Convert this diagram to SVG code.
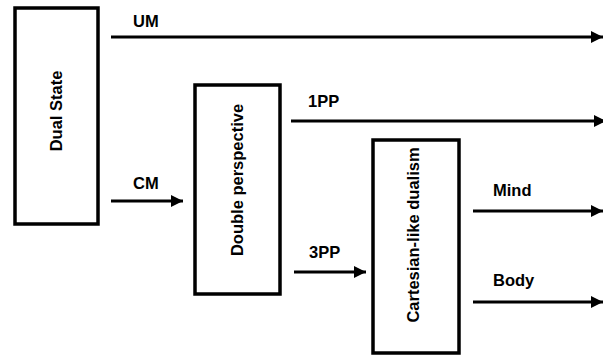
<svg xmlns="http://www.w3.org/2000/svg" width="603" height="356" viewBox="0 0 603 356">
<defs>
<style>
.box{fill:#fff;stroke:#000;stroke-width:3.5}
.lbl{font-family:"Liberation Sans",Arial,sans-serif;font-weight:bold;font-size:16.5px;fill:#000}
.ln{stroke:#000;stroke-width:3;fill:none}
</style>
<marker id="ah" viewBox="0 0 10 10" refX="10" refY="5" markerWidth="4" markerHeight="4.4" markerUnits="strokeWidth" orient="auto">
<path d="M0,0 L10,5 L0,10 Z" fill="#000"/>
</marker>
</defs>
<rect width="603" height="356" fill="#fff"/>
<g id="dual-state">
<rect class="box" x="15" y="8" width="83" height="216"/>
<text class="lbl" transform="translate(62,111) rotate(-90)" text-anchor="middle">Dual State</text>
</g>
<g id="double-perspective">
<rect class="box" x="195" y="85" width="85" height="209"/>
<text class="lbl" transform="translate(243,180) rotate(-90)" text-anchor="middle">Double perspective</text>
</g>
<g id="cartesian-dualism">
<rect class="box" x="373" y="140" width="86" height="213"/>
<text class="lbl" transform="translate(419,235) rotate(-90)" text-anchor="middle">Cartesian-like dualism</text>
</g>
<g id="connectors">
<line class="ln" x1="111" y1="37" x2="603" y2="37" marker-end="url(#ah)"/>
<line class="ln" x1="111" y1="201" x2="183" y2="201" marker-end="url(#ah)"/>
<line class="ln" x1="291" y1="121" x2="606" y2="121" marker-end="url(#ah)"/>
<line class="ln" x1="294" y1="272" x2="366" y2="272" marker-end="url(#ah)"/>
<line class="ln" x1="473" y1="211" x2="603" y2="211" marker-end="url(#ah)"/>
<line class="ln" x1="473" y1="302" x2="603" y2="302" marker-end="url(#ah)"/>
<text class="lbl" x="133" y="27">UM</text>
<text class="lbl" x="133" y="189">CM</text>
<text class="lbl" x="308" y="107">1PP</text>
<text class="lbl" x="309" y="258">3PP</text>
<text class="lbl" x="493" y="196">Mind</text>
<text class="lbl" x="493" y="286">Body</text>
</g>
</svg>
